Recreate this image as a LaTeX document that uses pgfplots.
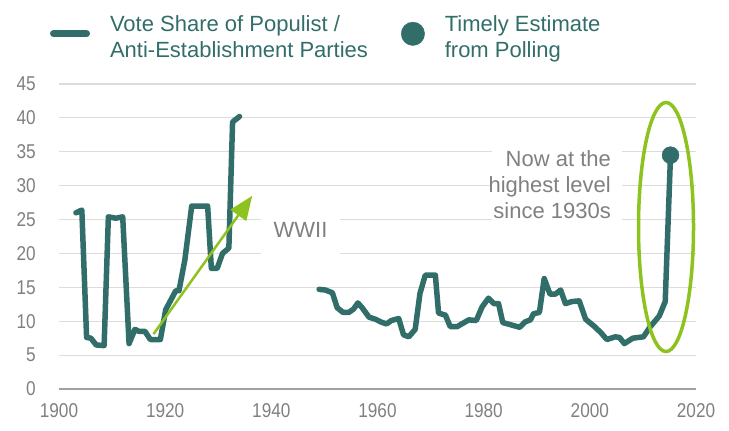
\documentclass[border=0pt]{standalone}
\usepackage{fontspec}
\setmainfont{Liberation Sans}
\newfontfamily\tickfamily{Liberation Sans}[FakeStretch=0.86]
\usepackage{pgfplots}
\pgfplotsset{compat=1.18}
\usetikzlibrary{arrows.meta}
\definecolor{lineteal}{RGB}{50,110,105}
\definecolor{lgreen}{RGB}{141,194,31}
\definecolor{tgray}{RGB}{128,128,128}
\definecolor{ggrid}{RGB}{220,220,220}
\definecolor{axgray}{RGB}{160,160,160}
\def\tickfont{\tickfamily\fontsize{20bp}{24bp}\selectfont}
\def\txtfont{\fontsize{22bp}{26bp}\selectfont}
\begin{document}
\begin{tikzpicture}
\useasboundingbox (-59bp,-42bp) rectangle (670bp,389bp);
\begin{axis}[
  scale only axis, width=637bp, height=305bp,
  xmin=1900, xmax=2020, ymin=0, ymax=45,
  xtick={1900,1920,...,2020}, ytick={0,5,...,45},
  /pgf/number format/assume math mode=true,
  /pgf/number format/set thousands separator={},
  axis x line*=bottom, axis y line*=left,
  y axis line style={draw=none},
  x axis line style={draw=axgray, line width=1.6bp, -},
  major tick length=0pt,
  ymajorgrids, grid style={ggrid, line width=1.2bp},
  tick label style={font=\tickfont, text=tgray, inner sep=0pt},
  xticklabel style={anchor=north, yshift=-14bp},
  yticklabel style={anchor=east, xshift=-23bp},
  clip=false,
  unbounded coords=jump,
  legend columns=2,
  legend style={draw=none, fill=none, inner sep=0pt, outer sep=0pt,
    at={(-0.0141,1.226)}, anchor=north west,
    font=\txtfont, text=lineteal,
    nodes={inner sep=0pt, align=left},
    column sep=0pt,
    /tikz/every odd column/.append style={column sep=20bp},
    /tikz/column 2/.append style={column sep=33bp}},
  legend cell align=left,
]
% white boxes behind annotations
\fill[white] (axis cs:1938.0,25.5) rectangle (axis cs:1952.9,19.5);
\fill[white] (axis cs:1981.5,36.4) rectangle (axis cs:2006.05,23.75);

\addplot[lineteal, line width=5.5bp, line join=round, line cap=round,
  legend image code/.code={\draw[lineteal, line width=7bp, line cap=round] (3.5bp,3bp) -- (36.5bp,3bp);}]
coordinates {
(1903.2,26.0) (1904.3,26.4) (1905.2,7.6) (1906.0,7.5) (1907.0,6.5) (1908.5,6.4)
(1909.3,25.4) (1910.7,25.2) (1912.0,25.4) (1913.2,6.7) (1914.3,8.8) (1915.1,8.5)
(1916.2,8.5) (1917.2,7.3) (1919.1,7.3) (1920.1,11.7) (1922.0,14.5) (1922.6,14.5)
(1923.7,19.0) (1925.0,27.0) (1928.0,27.0) (1928.7,17.8) (1929.8,17.8) (1930.8,20.0)
(1932.0,20.8) (1932.7,39.4) (1934.0,40.2)
(1941.0,nan)
(1949.0,14.7) (1950.2,14.6) (1951.5,14.2) (1952.4,12.0) (1953.5,11.3) (1954.6,11.3)
(1955.5,11.8) (1956.3,12.7) (1957.1,12.0) (1958.4,10.6) (1959.6,10.3) (1960.6,9.9)
(1961.7,9.6) (1962.6,10.1) (1964.0,10.4) (1964.9,8.0) (1965.9,7.7) (1967.1,8.8)
(1968.0,14.1) (1969.0,16.8) (1970.9,16.8) (1971.5,11.2) (1972.8,10.9) (1973.7,9.2)
(1975.0,9.2) (1977.2,10.2) (1978.6,10.1) (1979.7,12.1) (1980.9,13.4) (1981.9,12.6)
(1982.8,12.6) (1983.6,9.8) (1985.0,9.5) (1986.8,9.1) (1987.8,9.9) (1988.8,10.2)
(1989.4,11.1) (1990.5,11.3) (1991.4,16.3) (1992.5,14.0) (1993.5,14.0) (1994.5,14.6)
(1995.4,12.6) (1996.6,12.9) (1998.0,13.0) (1999.2,10.3) (2000.9,9.2) (2002.1,8.3)
(2003.2,7.3) (2004.8,7.7) (2005.6,7.6) (2006.5,6.7) (2008.1,7.5) (2010.1,7.7)
(2011.3,9.1) (2013.1,10.8) (2014.2,12.9) (2015.2,34.5)
};
\addlegendentry{Vote Share of Populist /\\Anti-Establishment Parties}

\addplot[only marks, mark=*, mark size=8.5bp, lineteal,
  legend image code/.code={\fill[lineteal] (11.7bp,3bp) circle (11.7bp);}]
coordinates {(2015.2,34.5)};
\addlegendentry{Timely Estimate\\from Polling}

\draw[lgreen, line width=3.5bp] (axis cs:2014.35,23.9) ellipse [x radius=27.5bp, y radius=124.5bp];
\draw[lgreen, line width=2.5bp, -{Triangle[length=24bp,width=19bp]}]
  (axis cs:1917.8,8.1) -- (axis cs:1936.4,28.5);

\node[anchor=base, inner sep=0pt, text=tgray, font=\txtfont] at (axis cs:1945.5,22.4) {WWII};
\node[anchor=north east, inner sep=0pt, align=right, text=tgray, font=\txtfont]
  at (axis cs:2004.0,35.26) {Now at the\\highest level\\since 1930s};
\end{axis}
\end{tikzpicture}
\end{document}
